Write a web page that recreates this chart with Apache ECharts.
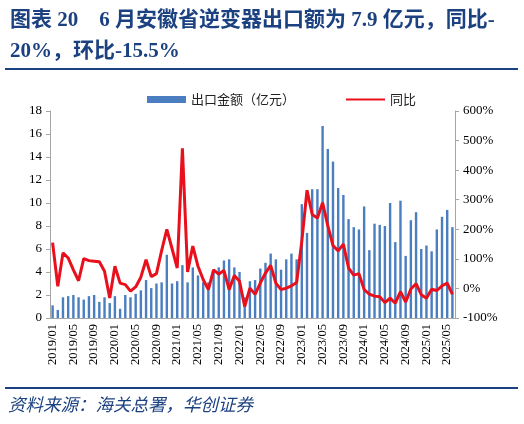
<!DOCTYPE html>
<html>
<head>
<meta charset="utf-8">
<script src="https://cdn.jsdelivr.net/npm/echarts@6/dist/echarts.min.js"></script>
<style>
  html, body { margin: 0; padding: 0; background: #fff; }
  #chart { width: 524px; height: 424px; }
</style>
</head>
<body>
<div id="chart"></div>
<script>
// 月份 2019/01 - 2025/06
var months = [];
for (var y = 2019; y <= 2025; y++) {
    for (var m = 1; m <= 12; m++) {
        if (y === 2025 && m > 6) break;
        months.push(y + '/' + (m < 10 ? '0' + m : m));
    }
}

// 出口金额（亿元）
var exportValue = [
    1.1, 0.7, 1.8, 1.9, 2.0, 1.8, 1.6, 1.9, 2.0, 1.4, 1.8, 1.3,
    1.9, 0.8, 2.0, 1.8, 2.1, 2.4, 3.3, 2.6, 3.0, 3.1, 5.5, 3.0,
    3.2, 4.6, 3.1, 4.4, 3.7, 3.1, 3.1, 4.2, 4.4, 5.0, 5.1, 4.4,
    4.0, 1.8, 3.2, 3.3, 4.3, 4.8, 5.6, 5.1, 4.2, 5.1, 5.6, 5.1,
    9.9, 7.4, 11.2, 11.2, 16.7, 14.7, 13.6, 11.3, 10.7, 8.6, 7.9, 7.7,
    9.7, 5.9, 8.2, 8.1, 8.0, 10.0, 6.6, 10.2, 5.4, 8.5, 9.2, 6.0,
    6.3, 5.8, 7.7, 8.8, 9.4, 7.9
];

// 同比（%）
var yoy = [
    155, 7, 120, 103, 63, 26, 101, 94, 92, 90, 58, -32,
    75, 18, 13, -9, 5, 38, 97, 40, 50, 128, 200, 135,
    69, 474, 56, 143, 75, 30, -4, 63, 48, 61, -4, 44,
    24, -61, 1, -20, 18, 52, 78, 18, -4, 1, 9, 20,
    160, 332, 250, 238, 290, 212, 145, 127, 150, 69, 45, 50,
    -4, -19, -26, -28, -48, -33, -50, -11, -46, -2, 16, -21,
    -33, -3, -7, 9, 18, -20
];

var navy = '#1B4180';
var serif = '"Liberation Serif", "Times New Roman", "Noto Sans CJK SC", serif';

var myChart = echarts.init(document.getElementById('chart'));
var option = {
    animation: false,
    title: {
        text: '图表 20　6 月安徽省逆变器出口额为 7.9 亿元，同比-\n20%，环比-15.5%',
        left: 5,
        top: 0,
        textStyle: {
            fontSize: 21,
            lineHeight: 31,
            fontWeight: 'bold',
            color: navy,
            fontFamily: serif
        }
    },
    legend: {
        left: 142,
        top: 88,
        itemWidth: 39,
        itemHeight: 7,
        itemGap: 50,
        textStyle: {
            fontSize: 13,
            color: '#222',
            fontFamily: '"Noto Sans CJK SC", sans-serif'
        },
        data: [
            { name: '出口金额（亿元）', icon: 'rect' },
            { name: '同比', itemStyle: { opacity: 0 } }
        ]
    },
    grid: {
        left: 50,
        right: 69,
        top: 111,
        bottom: 106
    },
    xAxis: {
        type: 'category',
        data: months,
        boundaryGap: true,
        axisLine: { lineStyle: { color: '#A6A6A6', width: 1 } },
        axisTick: { interval: 3, length: 4, lineStyle: { color: '#A6A6A6' } },
        axisLabel: {
            interval: 3,
            rotate: 90,
            fontSize: 12.5,
            color: '#000',
            fontFamily: serif,
            margin: 6
        }
    },
    yAxis: [
        {
            type: 'value',
            min: 0,
            max: 18,
            interval: 2,
            axisLine: { show: true, lineStyle: { color: '#A6A6A6' } },
            axisTick: { show: true, length: 4, lineStyle: { color: '#A6A6A6' } },
            axisLabel: { fontSize: 13, color: '#000', fontFamily: serif, margin: 8 },
            splitLine: { show: false }
        },
        {
            type: 'value',
            min: -100,
            max: 600,
            interval: 100,
            axisLine: { show: true, lineStyle: { color: '#A6A6A6' } },
            axisTick: { show: true, length: 4, lineStyle: { color: '#A6A6A6' } },
            axisLabel: { fontSize: 13, color: '#000', fontFamily: serif, margin: 8, formatter: '{value}%' },
            splitLine: { show: false }
        }
    ],
    series: [
        {
            name: '出口金额（亿元）',
            type: 'bar',
            yAxisIndex: 0,
            barWidth: 2.4,
            itemStyle: { color: '#4A7EC0' },
            data: exportValue
        },
        {
            name: '同比',
            type: 'line',
            yAxisIndex: 1,
            symbol: 'none',
            lineStyle: { color: '#E8101C', width: 3 },
            itemStyle: { color: '#E8101C' },
            data: yoy
        }
    ],
    graphic: [
        {
            type: 'rect',
            shape: { x: 5, y: 68, width: 513, height: 2 },
            style: { fill: navy }
        },
        {
            type: 'rect',
            shape: { x: 5, y: 387, width: 513, height: 2 },
            style: { fill: navy }
        },
        {
            type: 'text',
            left: 8,
            top: 396,
            style: {
                text: '资料来源：海关总署，华创证券',
                fill: navy,
                fontSize: 17.5,
                fontStyle: 'italic',
                fontFamily: '"Noto Sans CJK SC", sans-serif'
            }
        }
    ]
};
myChart.setOption(option);
</script>
</body>
</html>
